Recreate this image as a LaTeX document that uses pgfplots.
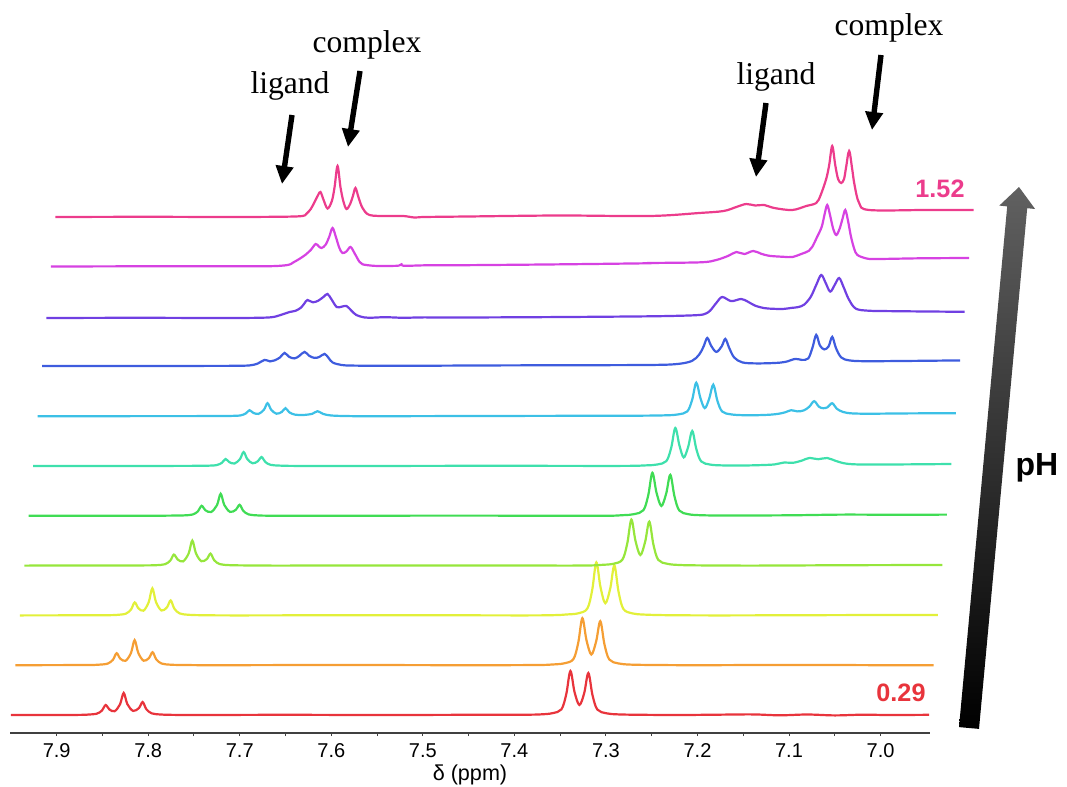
\documentclass[border=0pt]{standalone}
\usepackage{fontspec}
\setmainfont{Liberation Sans}
\newfontfamily\timesfont{Liberation Serif}
\usepackage{pgfplots}
\pgfplotsset{compat=1.18}
\usetikzlibrary{arrows.meta}

\definecolor{cRed}{RGB}{232,52,60}
\definecolor{cOrange}{RGB}{245,158,52}
\definecolor{cYellow}{RGB}{226,240,58}
\definecolor{cLime}{RGB}{150,230,60}
\definecolor{cGreen}{RGB}{64,220,84}
\definecolor{cTeal}{RGB}{62,224,172}
\definecolor{cCyan}{RGB}{60,192,230}
\definecolor{cBlue}{RGB}{62,92,222}
\definecolor{cPurple}{RGB}{112,64,226}
\definecolor{cMagenta}{RGB}{214,66,226}
\definecolor{cPink}{RGB}{236,60,140}

% stacked spectra: trace k is moved right by 0.00486 ppm and up by 49.8 units per step
\pgfplotsset{trace/.style 2 args={color=#2, line width=1.1pt, smooth, tension=0.55,
    x filter/.expression={x-0.00486*#1}, y filter/.expression={y+18+49.8*#1}}}

\begin{document}
\begin{tikzpicture}
\path[use as bounding box] (0,0) rectangle (533.5pt,-393.5pt);
\begin{axis}[
  at={(5pt,-366.5pt)}, anchor=south west,
  scale only axis, width=460pt, height=366.5pt,
  xmin=6.946, xmax=7.951, x dir=reverse,
  ymin=0, ymax=733,
  axis x line*=bottom, axis y line=none,
  clip=false,
  xtick={7.0,7.1,7.2,7.3,7.4,7.5,7.6,7.7,7.8,7.9},
  minor x tick num=1,
  tick align=outside,
  major tick length=1.6pt, minor tick length=1.6pt,
  axis line style={black!75, line width=0.6pt},
  every tick/.style={black!75, line width=0.5pt},
  xticklabel style={font=\fontsize{10}{12}\selectfont,
    /pgf/number format/.cd, fixed, fixed zerofill, precision=1, assume math mode=true},
  xlabel={δ (ppm)},
  xlabel style={font=\fontsize{10.8}{13}\selectfont, yshift=3pt},
]

% pH 0.29
\addplot[trace={0}{cRed}] coordinates {
(7.950,0) (7.920,0.1) (7.890,0) (7.870,0.2) (7.8662,0.4) (7.8563,1.3) (7.8505,4.5) (7.8465,10) (7.8425,5.6) (7.8367,3.8) (7.8308,10.7) (7.8268,22) (7.8228,10.9) (7.8165,4.1) (7.8101,7.0) (7.8061,13) (7.8021,5.9) (7.7963,1.7) (7.7864,0.5) (7.770,0.1) (7.740,0) (7.650,0.2) (7.550,0) (7.450,0.2) (7.390,0.3) (7.3718,0.6) (7.3585,1.8) (7.3486,5.7) (7.3433,21) (7.3388,44) (7.3343,23) (7.3290,10.1) (7.3237,22) (7.3192,42) (7.3147,20) (7.3094,5.5) (7.2995,1.7) (7.2862,0.6) (7.260,0.2) (7.220,0) (7.180,0.3) (7.140,0.6) (7.110,-0.3) (7.080,0.5) (7.050,-0.4) (7.020,0.3) (6.990,0) (6.947,0.2)
};
\addplot[trace={1}{cOrange}] coordinates {
(7.950,0) (7.900,0.1) (7.870,0.2) (7.8591,0.5) (7.8492,1.6) (7.8434,5.4) (7.8394,12) (7.8354,6.6) (7.8296,4.4) (7.8237,12.2) (7.8197,25) (7.8157,12.3) (7.8099,4.5) (7.8041,7.1) (7.8001,13) (7.7961,5.9) (7.7903,1.7) (7.7804,0.5) (7.765,0.2) (7.730,0) (7.600,0.2) (7.450,0) (7.380,0.2) (7.3636,0.7) (7.3503,1.9) (7.3404,6.1) (7.3351,22.5) (7.3306,47) (7.3261,25) (7.3208,10.7) (7.3155,24) (7.3110,44) (7.3065,21) (7.3012,5.7) (7.2913,1.8) (7.2780,0.6) (7.250,0.2) (7.200,0) (7.100,0.3) (7.000,0) (6.947,0)
};
\addplot[trace={2}{cYellow}] coordinates {
(7.950,0) (7.880,0.1) (7.855,0.2) (7.8442,0.5) (7.8343,1.7) (7.8285,5.9) (7.8245,13) (7.8205,7.2) (7.8149,4.7) (7.8092,13.2) (7.8052,27) (7.8012,13.3) (7.7952,4.9) (7.7892,8.1) (7.7852,15) (7.7812,6.8) (7.7754,2.0) (7.7655,0.6) (7.750,0.2) (7.710,0) (7.550,0.2) (7.400,0) (7.365,0.3) (7.3532,0.9) (7.3399,2.1) (7.3300,6.9) (7.3247,25.5) (7.3202,53) (7.3157,28.5) (7.3104,12.2) (7.3050,27) (7.3005,50) (7.2960,24) (7.2907,6.5) (7.2808,2.0) (7.2675,0.8) (7.240,0.2) (7.180,0) (7.050,0.3) (6.947,0.5)
};
\addplot[trace={3}{cLime}] coordinates {
(7.950,0) (7.850,0.1) (7.820,0.2) (7.8062,0.4) (7.7963,1.4) (7.7905,5.0) (7.7865,11) (7.7825,6.2) (7.7765,4.2) (7.7704,12.2) (7.7664,25) (7.7624,12.2) (7.7565,4.4) (7.7505,6.6) (7.7465,12) (7.7425,5.4) (7.7367,1.6) (7.7268,0.5) (7.710,0.2) (7.670,0) (7.500,0.2) (7.360,0) (7.330,0.2) (7.3198,0.7) (7.3065,1.8) (7.2966,6.0) (7.2913,22) (7.2868,46) (7.2823,24.8) (7.2770,10.6) (7.2717,24) (7.2672,44) (7.2627,21) (7.2574,5.7) (7.2475,1.8) (7.2340,0.6) (7.210,0.2) (7.150,0) (7.050,0.4) (6.947,0.6)
};
\addplot[trace={4}{cGreen}] coordinates {
(7.950,0) (7.820,0.1) (7.795,0.2) (7.7808,0.4) (7.7709,1.3) (7.7651,4.5) (7.7611,10) (7.7571,5.6) (7.7507,3.8) (7.7443,10.7) (7.7403,22) (7.7363,10.8) (7.7300,3.9) (7.7236,6.1) (7.7196,11) (7.7156,5.0) (7.7098,1.4) (7.6999,0.4) (7.685,0.1) (7.640,0) (7.480,0.2) (7.330,0) (7.3017,0.6) (7.2884,1.7) (7.2785,5.6) (7.2732,20.6) (7.2687,43) (7.2642,23.2) (7.2589,9.9) (7.2536,22.3) (7.2491,41) (7.2446,19.7) (7.2393,5.3) (7.2294,1.6) (7.2160,0.6) (7.190,0.3) (7.120,0.5) (7.060,1.2) (7.000,1.0) (6.947,1.2)
};
\addplot[trace={5}{cTeal}] coordinates {
(7.950,0) (7.800,0.1) (7.770,0.2) (7.7595,0.3) (7.7496,0.9) (7.7438,3.2) (7.7398,7) (7.7358,3.9) (7.7300,2.5) (7.7241,6.9) (7.7201,14) (7.7161,7.0) (7.7103,2.7) (7.7045,4.8) (7.7005,9) (7.6965,4.1) (7.6907,1.2) (7.6808,0.4) (7.665,0.1) (7.620,0) (7.450,0.2) (7.310,0.1) (7.2815,0.6) (7.2682,1.5) (7.2583,4.9) (7.2530,18.2) (7.2485,38) (7.2440,20.5) (7.2393,8.6) (7.2345,19) (7.2300,35) (7.2255,16.8) (7.2202,4.6) (7.2103,1.4) (7.1970,0.6) (7.175,0.5) (7.1550,0.9) (7.1400,1.6) (7.1295,3.5) (7.1200,3.2) (7.1100,5.5) (7.1022,8) (7.0924,6.8) (7.0826,8) (7.0730,5.0) (7.0620,2.4) (7.0450,1.5) (7.000,1.6) (6.947,2.0)
};
\addplot[trace={6}{cCyan}] coordinates {
(7.950,0) (7.780,0.1) (7.750,0.2) (7.7382,0.3) (7.7283,0.8) (7.7225,2.8) (7.7185,6) (7.7145,3.4) (7.7087,2.3) (7.7028,6.4) (7.6988,13) (7.6948,6.4) (7.6890,2.5) (7.6832,4.3) (7.6792,8) (7.6752,4.0) (7.6690,1.6) (7.6600,1.2) (7.6500,2.4) (7.6442,5) (7.6382,2.3) (7.6300,0.8) (7.6150,0.2) (7.580,0) (7.420,0.3) (7.300,0.5) (7.2635,0.9) (7.2502,1.8) (7.2403,4.8) (7.2350,16.3) (7.2305,33.5) (7.2260,18.3) (7.2212,8.1) (7.2164,17.4) (7.2119,31.5) (7.2074,15.5) (7.2021,4.6) (7.1922,1.8) (7.1790,1.0) (7.1650,1.0) (7.1500,1.5) (7.1400,2.5) (7.1330,4.0) (7.1268,6) (7.1200,4.8) (7.1130,5.8) (7.1070,9.5) (7.1017,15) (7.0965,9.5) (7.0918,8.0) (7.0870,9.0) (7.0820,13) (7.0770,7.5) (7.0700,4.2) (7.0600,2.8) (7.0400,2.5) (7.000,2.8) (6.947,3.0)
};
\addplot[trace={7}{cBlue}] coordinates {
(7.950,0.5) (7.780,0.5) (7.740,0.6) (7.7233,1.0) (7.7145,2.8) (7.7069,6.5) (7.7010,5.0) (7.6960,6.0) (7.6900,9) (7.6851,13.5) (7.6800,9.5) (7.6741,8.0) (7.6690,10.5) (7.6632,14.5) (7.6580,10.5) (7.6523,8.5) (7.6470,9.5) (7.6414,12.5) (7.6370,8.5) (7.6327,4.0) (7.6228,1.4) (7.6087,0.8) (7.560,0.6) (7.450,1.0) (7.350,1.2) (7.280,1.5) (7.2550,2.5) (7.2400,5.5) (7.2320,12) (7.2273,20) (7.2233,28.5) (7.2193,21) (7.2135,14.5) (7.2076,20) (7.2036,27.5) (7.1996,19) (7.1940,9) (7.1850,4.0) (7.1700,3.0) (7.1500,3.4) (7.1380,4.5) (7.1272,7.5) (7.1200,6.5) (7.1130,8) (7.1083,19) (7.1043,31.5) (7.1003,21) (7.0955,17) (7.0908,20) (7.0868,29.5) (7.0828,18.5) (7.0770,9) (7.0680,6.0) (7.0500,5.2) (7.000,5.5) (6.947,6.0)
};
\addplot[trace={8}{cPurple}] coordinates {
(7.950,-1.4) (7.850,-1.2) (7.760,-1.4) (7.7200,-1.2) (7.7031,-0.5) (7.6930,2.0) (7.6845,4.6) (7.6780,5.8) (7.6720,9) (7.6680,13.5) (7.6649,16.6) (7.6590,14.3) (7.6530,16) (7.6470,20) (7.6430,22.6) (7.6385,17) (7.6330,9.6) (7.6280,9.8) (7.6223,10.6) (7.6170,6) (7.6114,1.5) (7.6030,-0.8) (7.5972,-1.2) (7.580,-0.6) (7.560,-1.2) (7.540,-0.8) (7.500,-0.9) (7.400,-0.5) (7.300,0.2) (7.2600,0.8) (7.2369,1.6) (7.2300,3) (7.2250,6) (7.2180,14) (7.2118,19.6) (7.2020,15.5) (7.1911,17.6) (7.1840,15) (7.1760,11) (7.1660,8.5) (7.1560,7.8) (7.1463,7.6) (7.1400,8.2) (7.1354,8.8) (7.1290,9.5) (7.1223,12) (7.1150,20) (7.1090,32) (7.1037,41.6) (7.0990,34) (7.0939,25) (7.0888,32) (7.0841,38.6) (7.0795,30) (7.0740,18) (7.0680,9.5) (7.0622,6.8) (7.0500,5.8) (7.0404,5.6) (7.000,5.2) (6.947,4.8)
};
\addplot[trace={9}{cMagenta}] coordinates {
(7.950,0.3) (7.850,0.5) (7.760,0.5) (7.7111,0.6) (7.6915,1.8) (7.6850,4.5) (7.6784,8) (7.6720,12) (7.6660,17) (7.6609,22.8) (7.6575,20.5) (7.6544,18.8) (7.6500,22) (7.6460,30) (7.6424,38.8) (7.6388,30) (7.6350,19) (7.6315,13.8) (7.6270,15.5) (7.6227,19.8) (7.6180,13) (7.6130,5) (7.6096,2.5) (7.6000,1.2) (7.5911,0.8) (7.5760,0.9) (7.5700,1.2) (7.5670,2.5) (7.5640,1.0) (7.540,1.5) (7.500,1.6) (7.400,2.4) (7.300,3.5) (7.2963,3.8) (7.2400,4.5) (7.2232,6.8) (7.2100,11) (7.2013,14.8) (7.1926,12.8) (7.1828,15.8) (7.1740,13) (7.1653,11) (7.1500,10) (7.1402,9.8) (7.1304,12.8) (7.1220,16) (7.1183,20) (7.1130,30) (7.1080,40) (7.1050,52) (7.1020,61.8) (7.0990,52) (7.0955,38) (7.0921,31.8) (7.0885,38) (7.0853,48) (7.0823,56.8) (7.0793,46) (7.0760,30) (7.0725,18) (7.0692,12) (7.0600,8.5) (7.0485,7.8) (7.000,8.5) (6.947,8.8)
};
% pH 1.52
\addplot[trace={10}{cPink}] coordinates {
(7.950,0) (7.850,0.2) (7.760,0) (7.7000,0.3) (7.6800,1) (7.6760,3) (7.6710,8) (7.6669,15) (7.6630,22) (7.6604,25) (7.6570,17) (7.6527,8.5) (7.6480,16) (7.6450,30) (7.6418,51) (7.6386,30) (7.6355,16) (7.6320,8) (7.6280,13) (7.6250,21) (7.6222,29) (7.6190,20) (7.6145,9) (7.6069,2) (7.5883,1) (7.5700,1) (7.5577,-0.5) (7.5468,0) (7.500,0.5) (7.400,1.5) (7.3012,1) (7.2466,4) (7.2200,6) (7.2062,10) (7.1953,13) (7.1855,11.5) (7.1757,12) (7.1647,9) (7.1451,7) (7.1298,11) (7.1189,14) (7.1140,22) (7.1080,38) (7.1047,52) (7.1014,71) (7.0981,52) (7.0950,38) (7.0916,34) (7.0885,38) (7.0862,50) (7.0829,66) (7.0796,48) (7.0770,32) (7.0720,14) (7.0610,7) (7.000,7) (6.947,7)
};
\end{axis}

\begin{scope}[x=0.5pt,y=-0.5pt]
  % peak annotations
  \begin{scope}[font=\timesfont\fontsize{15.8}{19}\selectfont]
    \node[anchor=base, inner sep=0pt] at (367,53) {complex};
    \node[anchor=base, inner sep=0pt] at (290,93) {ligand};
    \node[anchor=base, inner sep=0pt] at (776,84) {ligand};
    \node[anchor=base, inner sep=0pt] at (889,35) {complex};
  \end{scope}
  \begin{scope}[line width=2.7pt, -{Triangle[width=8.5pt,length=9pt]}]
    \draw (292,115) -- (282,184);
    \draw (360,71) -- (348,147);
    \draw (766,103) -- (756,177);
    \draw (881,55) -- (872,130);
  \end{scope}
  % pH labels
  \node[anchor=base, inner sep=0pt, text=cPink, font=\bfseries\fontsize{12.6}{15}\selectfont] at (940,197) {1.52};
  \node[anchor=base, inner sep=0pt, text=cRed, font=\bfseries\fontsize{12.6}{15}\selectfont] at (901,701) {0.29};
  % pH direction arrow
  \shade[top color=black!62, bottom color=black]
    (959.0,727.1) -- (1007.2,206.4) -- (999.3,205.6) -- (1019,187) -- (1035.1,209.0) -- (1027.2,208.2) -- (979.0,728.9) -- cycle;
  \node[inner sep=0pt, font=\bfseries\fontsize{16}{19}\selectfont] at (1037,468) {pH};
\end{scope}
\end{tikzpicture}
\end{document}
